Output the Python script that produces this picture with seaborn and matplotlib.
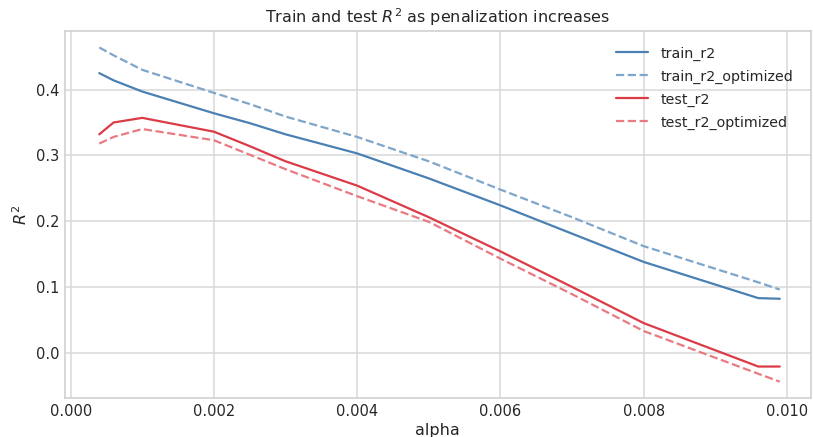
import numpy as np
import pandas as pd
import matplotlib
matplotlib.use("Agg")
import matplotlib.pyplot as plt
import seaborn as sns

alpha = [0.0004, 0.0006, 0.001, 0.002, 0.0025, 0.003, 0.004, 0.005, 0.006, 0.007, 0.008, 0.0096, 0.0099]
train_r2 = [0.425, 0.414, 0.397, 0.364, 0.349, 0.332, 0.303, 0.265, 0.224, 0.181, 0.138, 0.083, 0.082]
train_r2_optimized = [0.464, 0.452, 0.430, 0.395, 0.378, 0.359, 0.328, 0.291, 0.248, 0.206, 0.162, 0.107, 0.096]
test_r2 = [0.332, 0.350, 0.357, 0.336, 0.314, 0.291, 0.254, 0.206, 0.154, 0.100, 0.045, -0.021, -0.021]
test_r2_optimized = [0.318, 0.328, 0.340, 0.323, 0.301, 0.279, 0.238, 0.199, 0.143, 0.089, 0.033, -0.032, -0.044]

series = {
    "train_r2": (train_r2, "#4a80b3", "-"),
    "train_r2_optimized": (train_r2_optimized, "#7ea6ca", "--"),
    "test_r2": (test_r2, "#dc3a47", "-"),
    "test_r2_optimized": (test_r2_optimized, "#e97a82", "--"),
}

sns.set_theme(style="whitegrid", rc={
    "axes.edgecolor": ".82",
    "grid.color": ".85",
    "axes.linewidth": 1.2,
    "grid.linewidth": 1.1,
    "xtick.major.size": 0,
    "ytick.major.size": 0,
    "xtick.major.pad": 4,
    "ytick.major.pad": 4,
})
plt.rcParams["font.family"] = ["DejaVu Sans"]

fig, ax = plt.subplots(figsize=(8.13, 4.37), dpi=100)
for name, (vals, col, ls) in series.items():
    df = pd.DataFrame({"alpha": alpha, "r2": vals})
    sns.lineplot(data=df, x="alpha", y="r2", color=col, linestyle=ls, lw=1.6,
                 label=name, ax=ax)

ax.set_title("Train and test $R^2$ as penalization increases", fontsize=11.5, color=".15", pad=6)
ax.set_xlabel("alpha", fontsize=11.5, color=".15", labelpad=3)
ax.set_ylabel("$R^2$", fontsize=11.5, color=".15", labelpad=4)
ax.set_xlim(-0.000078, 0.01033)
ax.set_ylim(-0.069, 0.489)
ax.set_xticks([0.0, 0.002, 0.004, 0.006, 0.008, 0.010])
ax.set_xticklabels(["0.000", "0.002", "0.004", "0.006", "0.008", "0.010"])
ax.set_yticks([0.0, 0.1, 0.2, 0.3, 0.4])
ax.tick_params(labelsize=10.5, colors=".15")
for s in ax.spines.values():
    s.set_visible(True)
leg = ax.legend(loc="upper right", frameon=False, fontsize=10.3, handlelength=2.2,
                borderaxespad=0.55, labelspacing=0.62, handletextpad=0.9,
                bbox_to_anchor=(0.995, 0.995))
for t in leg.get_texts():
    t.set_color(".15")

fig.subplots_adjust(left=0.08, right=0.997, top=0.929, bottom=0.089)
fig.savefig("out.png", dpi=100)
